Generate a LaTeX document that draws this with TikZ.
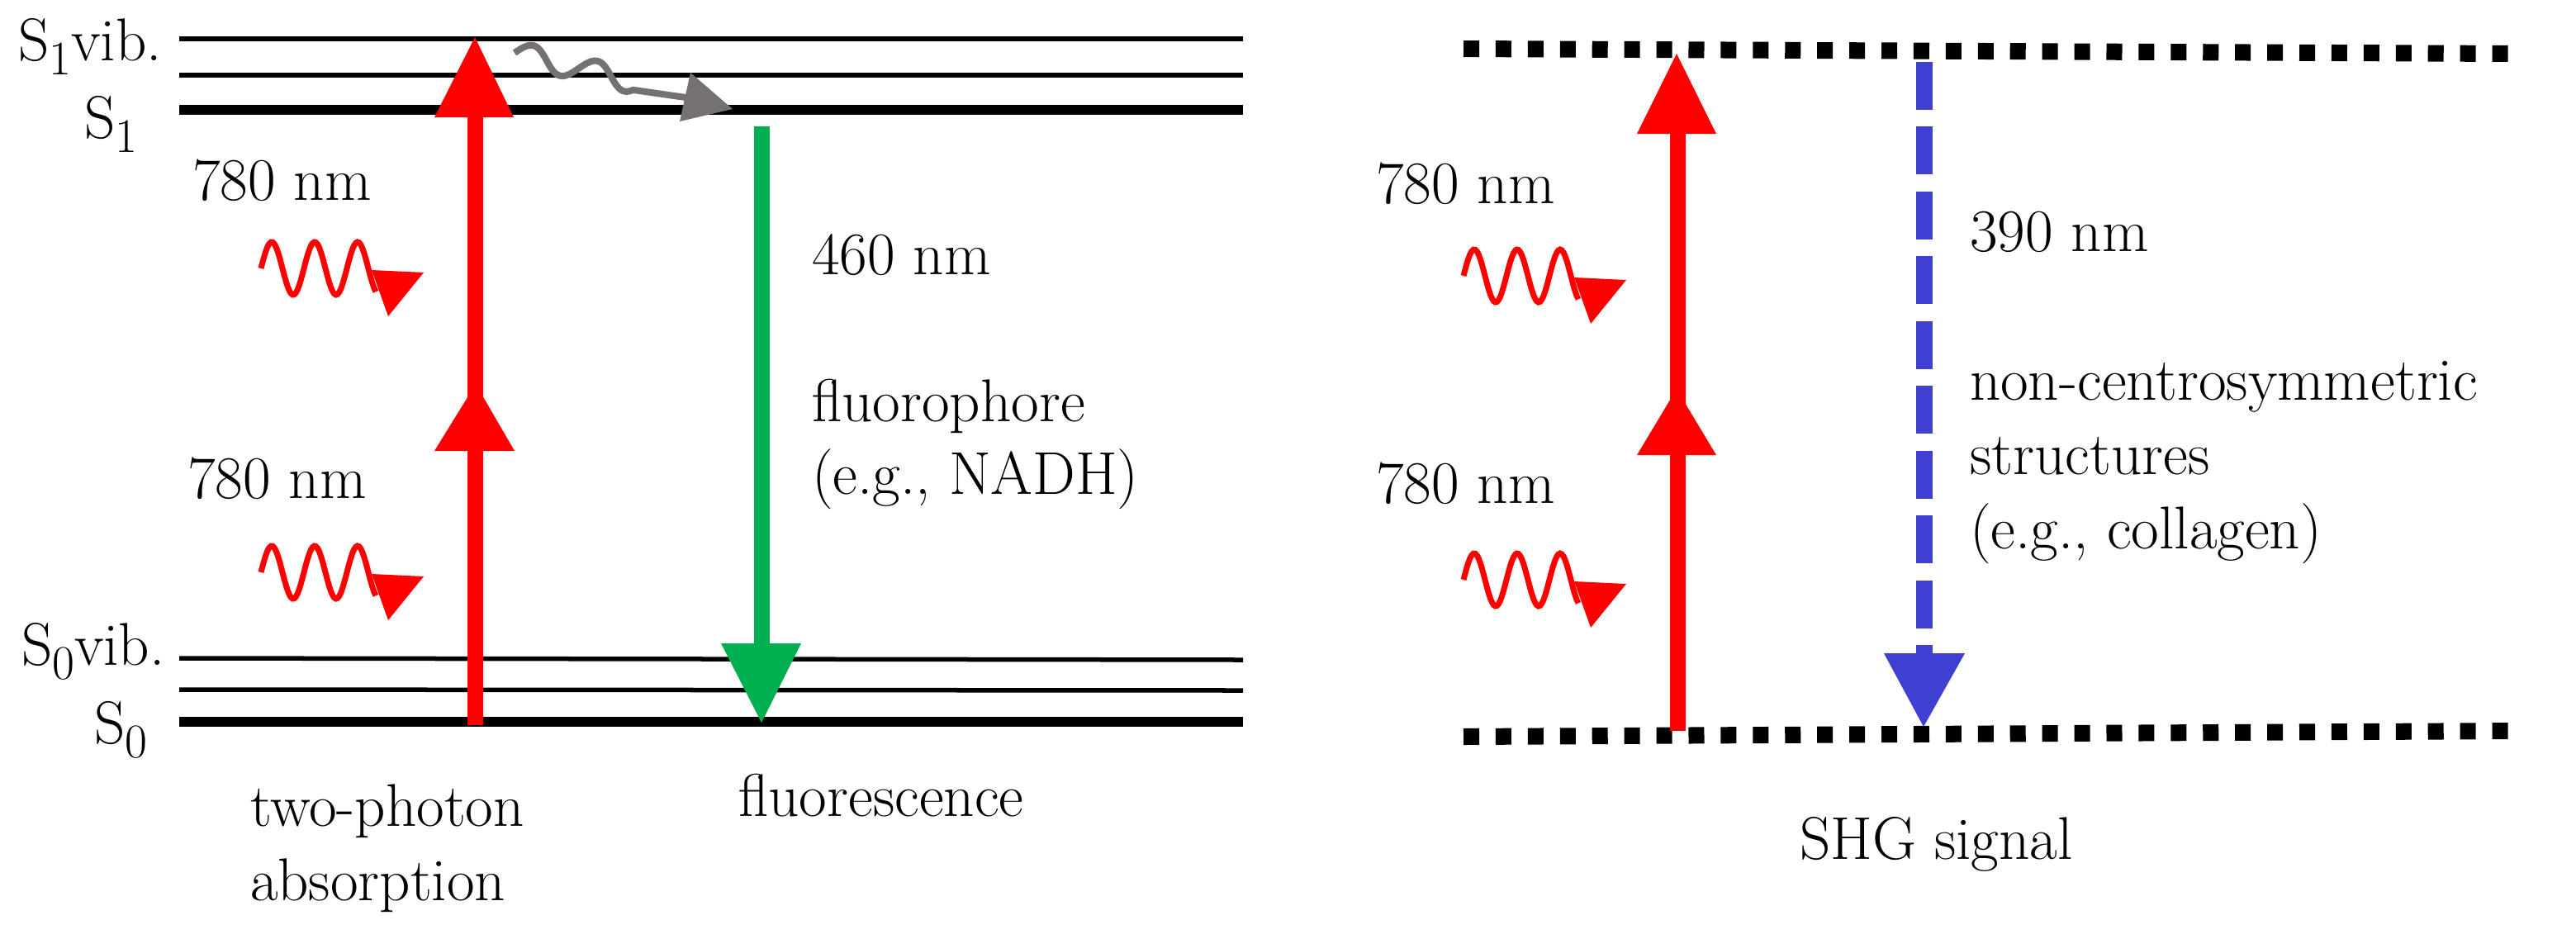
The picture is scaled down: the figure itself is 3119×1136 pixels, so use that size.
\documentclass[tikz,border=0pt]{standalone}
\usepackage{graphicx}
\definecolor{myred}{RGB}{255,0,0}
\definecolor{mygreen}{RGB}{0,176,80}
\definecolor{myblue}{RGB}{63,63,209}
\definecolor{mygray}{RGB}{118,113,113}
\newcommand{\levsub}[1]{\raisebox{-0.24em}{\scalebox{0.8}{#1}}}
\begin{document}
\begin{tikzpicture}[x=0.01cm,y=-0.01cm,
  lbl/.style={anchor=base west, inner sep=0pt, outer sep=0pt, font=\fontsize{20.8}{25}\selectfont},
  thinlev/.style={line width=0.055cm},
  thicklev/.style={line width=0.115cm},
  redshaft/.style={draw=myred, line width=0.19cm},
  greenshaft/.style={draw=mygreen, line width=0.19cm},
  blueshaft/.style={draw=myblue, line width=0.2cm, dash pattern=on 0.58cm off 0.204cm},
  dotlev/.style={line width=0.2cm, dash pattern=on 0.19cm off 0.199cm},
  photon/.pic={
    \draw[myred, line width=0.07cm]
      plot[domain=0:139, samples=70, variable=\u] (\u, {-32*sin(6.923*\u)});
    \fill[myred] (134,2) -- (197,5) -- (154,58) -- cycle;
  }]
\fill[white] (0,0) rectangle (3119,1136);
\useasboundingbox (0,0) rectangle (3119,1136);

% ---------- left: energy levels ----------
\draw[thinlev]  (217,47)  coordinate (v1a) -- (1505,47)  coordinate (v1b);
\draw[thinlev]  (217,91)  coordinate (v2a) -- (1505,91)  coordinate (v2b);
\draw[thicklev] (217,133) coordinate (s1a) -- (1505,133) coordinate (s1b);
\draw[thinlev]  (217,797) coordinate (w1a) -- (1505,799) coordinate (w1b);
\draw[thinlev]  (217,835) coordinate (w2a) -- (1505,836) coordinate (w2b);
\draw[thicklev] (217,874) coordinate (s0a) -- (1505,874) coordinate (s0b);

\node[lbl] (lS1vib) at (22,73)  {S\levsub{1}vib.};
\node[lbl] (lS1)    at (102,167) {S\levsub{1}};
\node[lbl] (lS0vib) at (26,805) {S\levsub{0}vib.};
\node[lbl] (lS0)    at (114,900) {S\levsub{0}};

% two-photon absorption arrow
\coordinate (ra0) at (575,878);
\coordinate (ratop) at (575,45);
\coordinate (ramid) at (576,465);
\draw[redshaft] (ra0) -- (575,142);
\fill[myred] (ratop) -- ++(-49,97) -- ++(96,0) -- cycle;
\fill[myred] (ramid) -- ++(-50,81) -- ++(97,0) -- cycle;

% fluorescence arrow
\coordinate (ga0) at (922,153);
\coordinate (gatip) at (922,875);
\draw[greenshaft] (ga0) -- (922,780);
\fill[mygreen] (gatip) -- ++(-49,-96) -- ++(97,0) -- cycle;

% gray vibrational relaxation
\draw[mygray, line width=0.08cm, line join=round]
  plot[domain=0:150, samples=70, variable=\t]
    ({623 + \t*0.972 + 14*sin(4.5*\t)*0.235}, {64 + \t*0.235 - 14*sin(4.5*\t)*0.972})
  -- (830,118) coordinate (grayend);
\fill[mygray] (836,88) -- (887,132) -- (823,147) -- cycle;

% photons (left)
\pic (phL1) at (316,325) {photon};
\pic (phL2) at (316,693) {photon};
\node[lbl] (t780a) at (233,242) {780 nm};
\node[lbl] (t780b) at (227,603) {780 nm};

\node[lbl] (t460) at (983,332) {460 nm};
\node[lbl] (tfl1) at (983,510) {fluorophore};
\node[lbl] (tfl2) at (983,598) {(e.g., NADH)};

\node[lbl] (ttp1) at (303,1000) {two-photon};
\node[lbl] (ttp2) at (303,1090) {absorption};
\node[lbl] (tfluo) at (894,988) {fluorescence};

% ---------- right: SHG ----------
\draw[dotlev] (1772,59) coordinate (vt1) -- (3039,65) coordinate (vt2);
\draw[dotlev] (1772,892) coordinate (vb1) -- (3044,885) coordinate (vb2);

\coordinate (rb0) at (2031,885);
\coordinate (rbtop) at (2030,65);
\coordinate (rbmid) at (2030,471);
\draw[redshaft] (rb0) -- (2031,162);
\fill[myred] (rbtop) -- ++(-48,97) -- ++(96,0) -- cycle;
\fill[myred] (rbmid) -- ++(-48,80) -- ++(96,0) -- cycle;

\coordinate (bb0) at (2330,75);
\coordinate (bbtip) at (2329,880);
\draw[blueshaft] (bb0) -- (2330,792);
\fill[myblue] (bbtip) -- ++(-48,-89) -- ++(98,0) -- cycle;

\pic (phR1) at (1772,334) {photon};
\pic (phR2) at (1772,702) {photon};
\node[lbl] (r780a) at (1666,246) {780 nm};
\node[lbl] (r780b) at (1666,609) {780 nm};

\node[lbl] (t390) at (2385,304) {390 nm};
\node[lbl] (tnc1) at (2385,484) {non-centrosymmetric};
\node[lbl] (tnc2) at (2385,574) {structures};
\node[lbl] (tnc3) at (2385,664) {(e.g., collagen)};
\node[lbl] (tshg) at (2179,1040) {SHG signal};
\end{tikzpicture}
\end{document}
